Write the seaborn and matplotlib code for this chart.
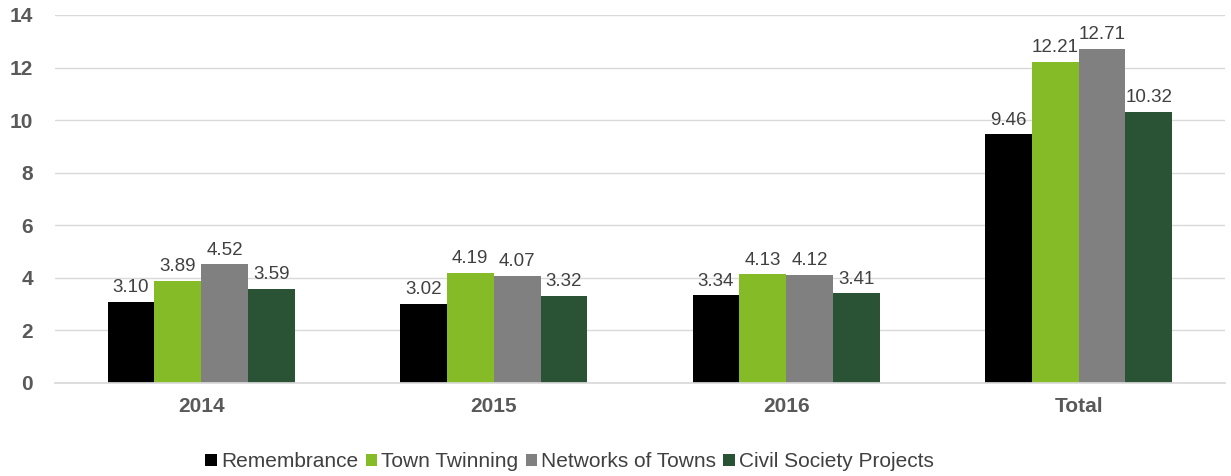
import pandas as pd
import matplotlib
matplotlib.use("Agg")
import matplotlib.pyplot as plt
import seaborn as sns

# Data
groups = ["2014", "2015", "2016", "Total"]
series = ["Remembrance", "Town Twinning", "Networks of Towns", "Civil Society Projects"]
remembrance = [3.10, 3.02, 3.34, 9.46]
town_twinning = [3.89, 4.19, 4.13, 12.21]
networks = [4.52, 4.07, 4.12, 12.71]
civil_society = [3.59, 3.32, 3.41, 10.32]
colors = ["#000000", "#85BB26", "#808080", "#2A5234"]

rows = []
for name, vals in zip(series, [remembrance, town_twinning, networks, civil_society]):
    for g, v in zip(groups, vals):
        rows.append({"group": g, "series": name, "value": v})
df = pd.DataFrame(rows)

sns.set_theme(style="white")
plt.rcParams['font.family'] = ['Liberation Sans', 'DejaVu Sans']

fig = plt.figure(figsize=(12.31, 4.76), dpi=100)
ax = fig.add_axes([0.0447, 0.1954, 0.9503, 0.7731])

sns.barplot(data=df, x="group", y="value", hue="series", hue_order=series,
            palette=colors, width=0.64, saturation=1, linewidth=0, ax=ax, legend=True)

for c in ax.containers:
    ax.bar_label(c, fmt="%.2f", padding=4, fontsize=13.5, color="#404040")

ax.set_ylim(0, 14)
ax.set_yticks(range(0, 15, 2))
ax.yaxis.grid(True, color="#D9D9D9", linewidth=1)
ax.set_axisbelow(True)
for s in ["top", "right", "left"]:
    ax.spines[s].set_visible(False)
ax.spines["bottom"].set_color("#D9D9D9")
ax.set_xlabel("")
ax.set_ylabel("")
ax.tick_params(axis="y", length=0, labelsize=15, labelcolor="#595959", pad=16)
ax.tick_params(axis="x", length=0, labelsize=15, labelcolor="#595959", pad=10)
for lbl in ax.get_xticklabels() + ax.get_yticklabels():
    lbl.set_fontweight("bold")

ax.legend(loc="upper center", bbox_to_anchor=(0.44, -0.137), ncol=4, frameon=False,
          fontsize=15, handlelength=0.55, handleheight=0.55, handletextpad=0.2,
          columnspacing=0.35, labelcolor="#404040")

fig.savefig("out.png", dpi=100)
